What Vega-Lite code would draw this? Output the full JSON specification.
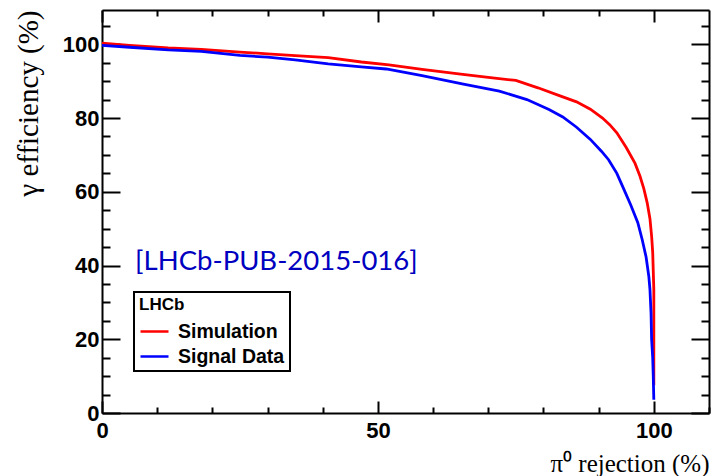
{
  "$schema": "https://vega.github.io/schema/vega-lite/v6.json",
  "autosize": {"type": "none"},
  "padding": {"left": 102, "top": 10, "right": 7, "bottom": 63},
  "width": 607,
  "height": 403,
  "background": "white",
  "config": {
    "view": {"stroke": null},
    "axis": {"grid": false, "domainColor": "black", "domainWidth": 2, "tickColor": "black", "tickWidth": 2, "labelColor": "black", "titleColor": "black"},
    "legend": {"strokeWidth": 2}
  },
  "datasets": {
    "curves": [
      {"series": "Simulation", "x": 0, "y": 100.3},
      {"series": "Simulation", "x": 5, "y": 99.7},
      {"series": "Simulation", "x": 12, "y": 99.0},
      {"series": "Simulation", "x": 18, "y": 98.6},
      {"series": "Simulation", "x": 25, "y": 97.9},
      {"series": "Simulation", "x": 30, "y": 97.4},
      {"series": "Simulation", "x": 35, "y": 96.9},
      {"series": "Simulation", "x": 41, "y": 96.4},
      {"series": "Simulation", "x": 47, "y": 95.2},
      {"series": "Simulation", "x": 52, "y": 94.4},
      {"series": "Simulation", "x": 58, "y": 93.2},
      {"series": "Simulation", "x": 65, "y": 91.9},
      {"series": "Simulation", "x": 70, "y": 91.0},
      {"series": "Simulation", "x": 75, "y": 90.2},
      {"series": "Simulation", "x": 79, "y": 88.2},
      {"series": "Simulation", "x": 83, "y": 86.0},
      {"series": "Simulation", "x": 86, "y": 84.4},
      {"series": "Simulation", "x": 88.5, "y": 82.4},
      {"series": "Simulation", "x": 90.7, "y": 80.0},
      {"series": "Simulation", "x": 92, "y": 78.2},
      {"series": "Simulation", "x": 93.3, "y": 76.0},
      {"series": "Simulation", "x": 95, "y": 72.0},
      {"series": "Simulation", "x": 96.6, "y": 67.7},
      {"series": "Simulation", "x": 97.5, "y": 64.2},
      {"series": "Simulation", "x": 98.2, "y": 60.8},
      {"series": "Simulation", "x": 98.8, "y": 57.0},
      {"series": "Simulation", "x": 99.3, "y": 52.7},
      {"series": "Simulation", "x": 99.6, "y": 48.0},
      {"series": "Simulation", "x": 99.8, "y": 43.5},
      {"series": "Simulation", "x": 99.9, "y": 38.5},
      {"series": "Simulation", "x": 100, "y": 33.5},
      {"series": "Simulation", "x": 100, "y": 28.5},
      {"series": "Simulation", "x": 100, "y": 24.5},
      {"series": "Simulation", "x": 100, "y": 20},
      {"series": "Simulation", "x": 100, "y": 15.4},
      {"series": "Simulation", "x": 100, "y": 11},
      {"series": "Simulation", "x": 100, "y": 7.5},
      {"series": "Signal Data", "x": 0, "y": 99.7},
      {"series": "Signal Data", "x": 5, "y": 99.2},
      {"series": "Signal Data", "x": 12, "y": 98.5},
      {"series": "Signal Data", "x": 18, "y": 98.1},
      {"series": "Signal Data", "x": 25, "y": 97.0},
      {"series": "Signal Data", "x": 30, "y": 96.5},
      {"series": "Signal Data", "x": 35, "y": 95.8},
      {"series": "Signal Data", "x": 41, "y": 94.7},
      {"series": "Signal Data", "x": 47, "y": 93.9},
      {"series": "Signal Data", "x": 51.5, "y": 93.3},
      {"series": "Signal Data", "x": 58, "y": 91.5},
      {"series": "Signal Data", "x": 65.5, "y": 89.2},
      {"series": "Signal Data", "x": 72, "y": 87.3},
      {"series": "Signal Data", "x": 77, "y": 85.0},
      {"series": "Signal Data", "x": 81, "y": 82.3},
      {"series": "Signal Data", "x": 83.5, "y": 80.3},
      {"series": "Signal Data", "x": 86, "y": 77.5},
      {"series": "Signal Data", "x": 88.5, "y": 74.2},
      {"series": "Signal Data", "x": 90.5, "y": 71.0},
      {"series": "Signal Data", "x": 91.8, "y": 68.7},
      {"series": "Signal Data", "x": 93.3, "y": 65.0},
      {"series": "Signal Data", "x": 94.6, "y": 60.6},
      {"series": "Signal Data", "x": 95.8, "y": 56.5},
      {"series": "Signal Data", "x": 97.1, "y": 51.6},
      {"series": "Signal Data", "x": 97.9, "y": 47.0},
      {"series": "Signal Data", "x": 98.6, "y": 42.3},
      {"series": "Signal Data", "x": 99.1, "y": 37.0},
      {"series": "Signal Data", "x": 99.3, "y": 33.5},
      {"series": "Signal Data", "x": 99.5, "y": 27.0},
      {"series": "Signal Data", "x": 99.6, "y": 20.0},
      {"series": "Signal Data", "x": 99.8, "y": 15.0},
      {"series": "Signal Data", "x": 99.9, "y": 10.0},
      {"series": "Signal Data", "x": 100, "y": 3.6}
    ],
    "note": [{"label": "[LHCb-PUB-2015-016]"}]
  },
  "data": {"name": "curves"},
  "resolve": {"axis": {"x": "independent", "y": "independent"}},
  "layer": [
    {
      "mark": {"type": "line", "strokeWidth": 2.8},
      "encoding": {
        "x": {"field": "x", "type": "quantitative", "scale": {"domain": [0, 110], "nice": false, "zero": false},
          "axis": {"orient": "bottom", "values": [0, 50, 100], "ticks": false, "labelFont": "Liberation Sans", "labelFontWeight": "bold", "labelFontSize": 22, "labelPadding": 7, "labelFlush": false,
            "title": "π⁰ rejection (%)", "titleFont": "Liberation Serif", "titleFontWeight": "normal", "titleFontSize": 25, "titleX": 607, "titleY": 58, "titleAlign": "right", "titleBaseline": "alphabetic"}},
        "y": {"field": "y", "type": "quantitative", "scale": {"domain": [0, 109.3], "nice": false, "zero": false},
          "axis": {"orient": "left", "values": [0, 20, 40, 60, 80, 100], "ticks": false, "labelFont": "Liberation Sans", "labelFontWeight": "bold", "labelFontSize": 22, "labelPadding": 3, "labelFlush": false,
            "title": "γ efficiency (%)", "titleFont": "Liberation Serif", "titleFontWeight": "normal", "titleFontSize": 29, "titleAngle": 270, "titleX": -65, "titleY": 0, "titleAlign": "right", "titleBaseline": "alphabetic"}},
        "color": {"field": "series", "type": "nominal", "scale": {"domain": ["Simulation", "Signal Data"], "range": ["#ff0000", "#0000ff"]},
          "legend": {"orient": "none", "legendX": 32, "legendY": 282, "title": "LHCb", "titleFont": "Liberation Sans", "titleFontWeight": "bold", "titleFontSize": 17, "titleColor": "black", "titlePadding": 2,
            "fillColor": "white", "strokeColor": "black", "padding": 5, "symbolType": "stroke", "symbolSize": 784, "symbolStrokeWidth": 2.5, "labelFont": "Liberation Sans", "labelFontWeight": "bold", "labelFontSize": 19.5, "labelColor": "black", "labelOffset": 8, "rowPadding": -4}},
        "order": {"field": "y", "sort": "descending"}
      }
    },
    {
      "mark": {"type": "line", "opacity": 0},
      "encoding": {
        "x": {"field": "x", "type": "quantitative", "axis": {"orient": "bottom", "values": [0, 50, 100], "labels": false, "domain": false, "tickSize": -12, "title": null}},
        "y": {"field": "y", "type": "quantitative", "axis": {"orient": "left", "values": [0, 20, 40, 60, 80, 100], "labels": false, "domain": false, "tickSize": -18, "title": null}},
        "detail": {"field": "series"},
        "order": {"field": "y", "sort": "descending"}
      }
    },
    {
      "mark": {"type": "line", "opacity": 0},
      "encoding": {
        "x": {"field": "x", "type": "quantitative", "axis": {"orient": "bottom", "values": [10, 20, 30, 40, 60, 70, 80, 90, 110], "labels": false, "domain": false, "tickSize": -6, "title": null}},
        "y": {"field": "y", "type": "quantitative", "axis": {"orient": "left", "values": [5, 10, 15, 25, 30, 35, 45, 50, 55, 65, 70, 75, 85, 90, 95, 105], "labels": false, "domain": false, "tickSize": -8, "title": null}},
        "detail": {"field": "series"},
        "order": {"field": "y", "sort": "descending"}
      }
    },
    {
      "mark": {"type": "line", "opacity": 0},
      "encoding": {
        "x": {"field": "x", "type": "quantitative", "axis": {"orient": "top", "values": [0, 50, 100], "labels": false, "domain": true, "tickSize": -12, "title": null}},
        "y": {"field": "y", "type": "quantitative", "axis": {"orient": "right", "values": [0, 20, 40, 60, 80, 100], "labels": false, "domain": true, "tickSize": -18, "title": null}},
        "detail": {"field": "series"},
        "order": {"field": "y", "sort": "descending"}
      }
    },
    {
      "mark": {"type": "line", "opacity": 0},
      "encoding": {
        "x": {"field": "x", "type": "quantitative", "axis": {"orient": "top", "values": [10, 20, 30, 40, 60, 70, 80, 90], "labels": false, "domain": false, "tickSize": -6, "title": null}},
        "y": {"field": "y", "type": "quantitative", "axis": {"orient": "right", "values": [5, 10, 15, 25, 30, 35, 45, 50, 55, 65, 70, 75, 85, 90, 95, 105], "labels": false, "domain": false, "tickSize": -8, "title": null}},
        "detail": {"field": "series"},
        "order": {"field": "y", "sort": "descending"}
      }
    },
    {
      "data": {"name": "note"},
      "mark": {"type": "text", "font": "Lato", "fontSize": 27.5, "color": "#0000c0", "align": "left", "baseline": "alphabetic"},
      "encoding": {
        "x": {"datum": 6.0, "type": "quantitative", "axis": null},
        "y": {"datum": 38.9, "type": "quantitative", "axis": null},
        "text": {"field": "label"}
      }
    }
  ]
}
